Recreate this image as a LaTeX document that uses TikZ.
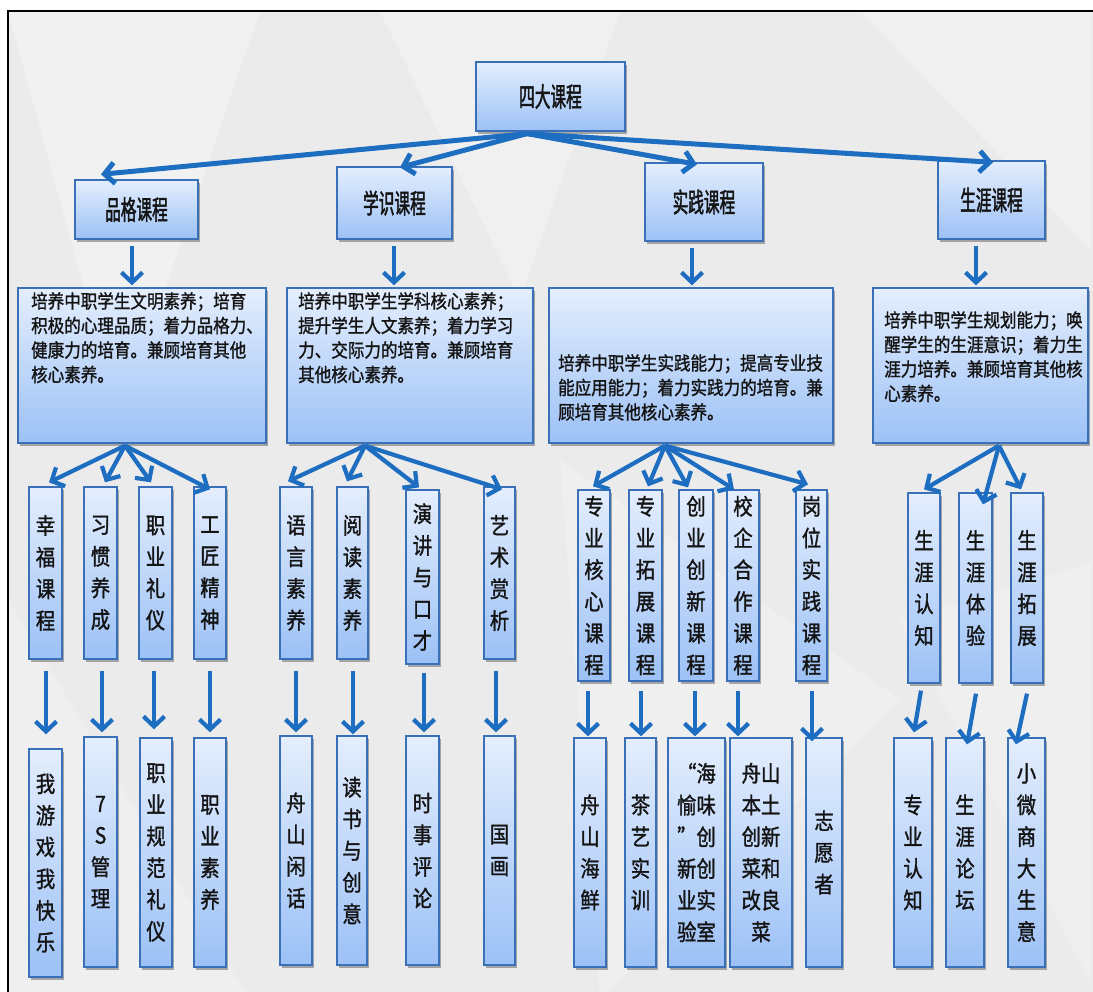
\documentclass[tikz,border=0pt]{standalone}
\usepackage{fontspec}
\newfontfamily\cjkt{Noto Sans CJK SC}[FakeStretch=0.58,FakeBold=1.6]
\newfontfamily\cjkd{Noto Sans CJK SC}[FakeStretch=0.88,FakeBold=1.3]
\newfontfamily\cjkv{Noto Sans CJK SC}[FakeStretch=0.86,FakeBold=1.3]
\usetikzlibrary{arrows.meta,shadows,calc}
\definecolor{bgc}{HTML}{EBEBEB}
\definecolor{boxtop}{HTML}{E4EEFD}
\definecolor{boxbot}{HTML}{9CC1F6}
\definecolor{boxline}{HTML}{3A70B8}
\definecolor{arrc}{HTML}{1D6DC0}
\definecolor{txt}{HTML}{141414}
\begin{document}
\begin{tikzpicture}[x=1pt,y=-1pt,
 box/.style={rectangle, draw=boxline, line width=1.3pt, top color=boxtop, bottom color=boxbot,
   drop shadow={shadow xshift=1.5pt, shadow yshift=-3pt, opacity=0.45, fill=black!70}, inner sep=0pt},
 tbox/.style={box, font=\cjkt\fontsize{27}{30}\selectfont, text=txt},
 vbox/.style={box, align=center, font=\cjkv\fontsize{22.5}{31.7}\selectfont, text=txt},
 dtext/.style={anchor=north west, inner sep=0pt, align=left, font=\cjkd\fontsize{18.8}{24.5}\selectfont, text=txt},
 arr/.style={draw=arrc, line width=4.2pt, -{Straight Barb[length=10pt,width=21pt]}},
 arrt/.style={arr, line width=5pt},
]
\useasboundingbox (0,0) rectangle (1093,992);
% background
\fill[white] (-5,-5) rectangle (1100,1000);
\fill[bgc] (8,11) rectangle (1100,1000);
\fill[white,opacity=0.3] (8,11) -- (260,11) -- (120,420) -- cycle;
\fill[white,opacity=0.25] (380,11) -- (620,11) -- (520,300) -- cycle;
\fill[white,opacity=0.25] (860,11) -- (1100,11) -- (1100,260) -- cycle;
\fill[white,opacity=0.2] (560,460) -- (900,700) -- (600,1000) -- cycle;
\fill[white,opacity=0.2] (8,600) -- (250,1000) -- (8,1000) -- cycle;
\fill[white,opacity=0.2] (900,620) -- (1100,560) -- (1100,1000) -- cycle;
\draw[black, line width=2.2pt] (8,1000) -- (8,11) -- (1100,11);

% level 1 and 2
\node[tbox, minimum width=149pt, minimum height=69pt] (top) at (550.5,96.5) {四大课程};
\node[tbox, minimum width=123pt, minimum height=59pt] (b1) at (136.5,209.5) {品格课程};
\node[tbox, minimum width=115pt, minimum height=72pt] (b2) at (394.5,203) {学识课程};
\node[tbox, minimum width=118pt, minimum height=78pt] (b3) at (704,202) {实践课程};
\node[tbox, minimum width=107pt, minimum height=78pt] (b4) at (991.5,200) {生涯课程};

% description boxes
\node[box, minimum width=248pt, minimum height=155pt] (d1) at (142,365.5) {};
\node[box, minimum width=246pt, minimum height=155pt] (d2) at (410,365.5) {};
\node[box, minimum width=284pt, minimum height=155pt] (d3) at (691,365.5) {};
\node[box, minimum width=215pt, minimum height=155pt] (d4) at (980.5,365.5) {};
\node[dtext] (t1) at (31,292) {培养中职学生文明素养；培育\\积极的心理品质；着力品格力、\\健康力的培育。兼顾培育其他\\核心素养。};
\node[dtext] (t2) at (298,292) {培养中职学生学科核心素养；\\提升学生人文素养；着力学习\\力、交际力的培育。兼顾培育\\其他核心素养。};
\node[dtext] (t3) at (558,354) {培养中职学生实践能力；提高专业技\\能应用能力；着力实践力的培育。兼\\顾培育其他核心素养。};
\node[dtext] (t4) at (884,311) {培养中职学生规划能力；唤\\醒学生的生涯意识；着力生\\涯力培养。兼顾培育其他核\\心素养。};

% level 3
\node[vbox, minimum width=33pt, minimum height=172pt] (c11) at (45.5,573) {幸\\福\\课\\程};
\node[vbox, minimum width=33pt, minimum height=172pt] (c12) at (100.5,573) {习\\惯\\养\\成};
\node[vbox, minimum width=33pt, minimum height=172pt] (c13) at (155.5,573) {职\\业\\礼\\仪};
\node[vbox, minimum width=32pt, minimum height=172pt] (c14) at (210,573) {工\\匠\\精\\神};
\node[vbox, minimum width=32pt, minimum height=172pt] (c21) at (296,573) {语\\言\\素\\养};
\node[vbox, minimum width=31pt, minimum height=172pt] (c22) at (352.5,573) {阅\\读\\素\\养};
\node[vbox, minimum width=33pt, minimum height=174pt] (c23) at (422.5,577) {演\\讲\\与\\口\\才};
\node[vbox, minimum width=31pt, minimum height=172pt] (c24) at (499.5,573) {艺\\术\\赏\\析};
\node[vbox, minimum width=32pt, minimum height=191pt] (c31) at (594,585.5) {专\\业\\核\\心\\课\\程};
\node[vbox, minimum width=33pt, minimum height=191pt] (c32) at (645.5,585.5) {专\\业\\拓\\展\\课\\程};
\node[vbox, minimum width=34pt, minimum height=191pt] (c33) at (696,585.5) {创\\业\\创\\新\\课\\程};
\node[vbox, minimum width=32pt, minimum height=191pt] (c34) at (743,585.5) {校\\企\\合\\作\\课\\程};
\node[vbox, minimum width=31pt, minimum height=191pt] (c35) at (811.5,585.5) {岗\\位\\实\\践\\课\\程};
\node[vbox, minimum width=32pt, minimum height=190pt] (c41) at (924,588) {生\\涯\\认\\知};
\node[vbox, minimum width=33pt, minimum height=190pt] (c42) at (975.5,588) {生\\涯\\体\\验};
\node[vbox, minimum width=32pt, minimum height=190pt] (c43) at (1027,588) {生\\涯\\拓\\展};

% level 4
\node[vbox, minimum width=33pt, minimum height=228pt] (e11) at (45.5,863) {我\\游\\戏\\我\\快\\乐};
\node[vbox, minimum width=33pt, minimum height=230pt] (e12) at (100.5,852) {7\\S\\管\\理};
\node[vbox, minimum width=32pt, minimum height=229pt] (e13) at (156,852.5) {职\\业\\规\\范\\礼\\仪};
\node[vbox, minimum width=32pt, minimum height=229pt] (e14) at (210,852.5) {职\\业\\素\\养};
\node[vbox, minimum width=32pt, minimum height=229pt] (e21) at (296,850.5) {舟\\山\\闲\\话};
\node[vbox, minimum width=30pt, minimum height=229pt] (e22) at (352,850.5) {读\\书\\与\\创\\意};
\node[vbox, minimum width=33pt, minimum height=229pt] (e23) at (422.5,850.5) {时\\事\\评\\论};
\node[vbox, minimum width=31pt, minimum height=229pt] (e24) at (499.5,850.5) {国\\画};
\node[vbox, minimum width=32pt, minimum height=229pt] (e31) at (590,852.5) {舟\\山\\海\\鲜};
\node[vbox, minimum width=31pt, minimum height=229pt] (e32) at (640.5,852.5) {茶\\艺\\实\\训};
\node[vbox, align=right, minimum width=57pt, minimum height=229pt] (e33) at (696.5,852.5) {“海\\愉味\\”创\\新创\\业实\\验室};
\node[vbox, minimum width=62pt, minimum height=229pt] (e34) at (761,852.5) {舟山\\本土\\创新\\菜和\\改良\\菜};
\node[vbox, minimum width=36pt, minimum height=229pt] (e35) at (824,852.5) {志\\愿\\者};
\node[vbox, minimum width=38pt, minimum height=229pt] (e41) at (913,852.5) {专\\业\\认\\知};
\node[vbox, minimum width=38pt, minimum height=229pt] (e42) at (965,852.5) {生\\涯\\论\\坛};
\node[vbox, minimum width=37pt, minimum height=229pt] (e43) at (1026.5,852.5) {小\\微\\商\\大\\生\\意};

% arrows level 1 -> 2
\draw[arrt] ($(top.south)+(-23.5,2)$) -- ($(b1.north)+(-35.5,-5)$);
\draw[arrt] ($(top.south)+(-23.5,2)$) -- ($(b2.north)+(5.5,1)$);
\draw[arrt] ($(top.south)+(-23.5,2)$) -- ($(b3.north)+(-7,2)$);
\draw[arrt] ($(top.south)+(-23.5,2)$) -- ($(b4.north)+(1.5,2)$);
% level 2 -> description
\draw[arr] ($(b1.south)+(-4.5,6)$) -- ($(d1.north)+(-10,-2)$);
\draw[arr] ($(b2.south)+(-0.5,6)$) -- ($(d2.north)+(-16,-2)$);
\draw[arr] ($(b3.south)+(-12,6)$) -- ($(d3.north)+(1,-2)$);
\draw[arr] ($(b4.south)+(-15.5,6)$) -- ($(d4.north)+(-4.5,-2)$);
% description -> level 3
\draw[arr] ($(d1.south)+(-17,2)$) -- ($(c11.north)+(3.5,-4)$);
\draw[arr] ($(d1.south)+(-17,2)$) -- ($(c12.north)+(4.5,-4)$);
\draw[arr] ($(d1.south)+(-17,2)$) -- ($(c13.north)+(-4.5,-4)$);
\draw[arr] ($(d1.south)+(-17,2)$) -- ($(c14.north)+(0,3)$);
\draw[arr] ($(d2.south)+(-45,2)$) -- ($(c21.north)+(-8,-5)$);
\draw[arr] ($(d2.south)+(-45,2)$) -- ($(c22.north)+(-5.5,-5)$);
\draw[arr] ($(d2.south)+(-45,2)$) -- ($(c23.north)+(-3.5,-2)$);
\draw[arr] ($(d2.south)+(-45,2)$) -- ($(c24.north)+(2.5,3)$);
\draw[arr] ($(d3.south)+(-26,2)$) -- ($(c31.north)+(-1,-3)$);
\draw[arr] ($(d3.south)+(-26,2)$) -- ($(c32.north)+(2.5,-3)$);
\draw[arr] ($(d3.south)+(-26,2)$) -- ($(c33.north)+(-8,-2)$);
\draw[arr] ($(d3.south)+(-26,2)$) -- ($(c34.north)+(-9,0)$);
\draw[arr] ($(d3.south)+(-26,2)$) -- ($(c35.north)+(-3.5,-5)$);
\draw[arr] ($(d4.south)+(18.5,2)$) -- ($(c41.north)+(0,-3)$);
\draw[arr] ($(d4.south)+(18.5,2)$) -- ($(c42.north)+(7.5,12)$);
\draw[arr] ($(d4.south)+(18.5,2)$) -- ($(c43.north)+(-6,-3)$);
% level 3 -> level 4
\draw[arr] ($(c11.south)+(0.5,11)$) -- ($(e11.north)+(0.5,-14)$);
\draw[arr] ($(c12.south)+(1.5,11)$) -- ($(e12.north)+(1.5,-4)$);
\draw[arr] ($(c13.south)+(-1.5,11)$) -- ($(e13.north)+(-2,-8)$);
\draw[arr] ($(c14.south)+(0,11)$) -- ($(e14.north)+(0,-5)$);
\draw[arr] ($(c21.south)+(0,11)$) -- ($(e21.north)+(0,-3)$);
\draw[arr] ($(c22.south)+(0.5,11)$) -- ($(e22.north)+(1,-1)$);
\draw[arr] ($(c23.south)+(1.5,8)$) -- ($(e23.north)+(1.5,-3)$);
\draw[arr] ($(c24.south)+(-3.5,11)$) -- ($(e24.north)+(-3.5,-3)$);
\draw[arr] ($(c31.south)+(-6,9)$) -- ($(e31.north)+(-2,-1)$);
\draw[arr] ($(c32.south)+(-4.5,9)$) -- ($(e32.north)+(0.5,-1)$);
\draw[arr] ($(c33.south)+(-1,9)$) -- ($(e33.north)+(-1.5,-1)$);
\draw[arr] ($(c34.south)+(-5,9)$) -- ($(e34.north)+(-23,-1)$);
\draw[arr] ($(c35.south)+(0.5,9)$) -- ($(e35.north)+(-12,4)$);
\draw[arr] ($(c41.south)+(-3,7)$) -- ($(e41.north)+(1,-5)$);
\draw[arr] ($(c42.south)+(0.5,10)$) -- ($(e42.north)+(2,7)$);
\draw[arr] ($(c43.south)+(0,10)$) -- ($(e43.north)+(-10.5,7)$);
% cover right margin
\fill[bgc] (1090.6,12.2) rectangle (1100,1000);
\end{tikzpicture}
\end{document}
